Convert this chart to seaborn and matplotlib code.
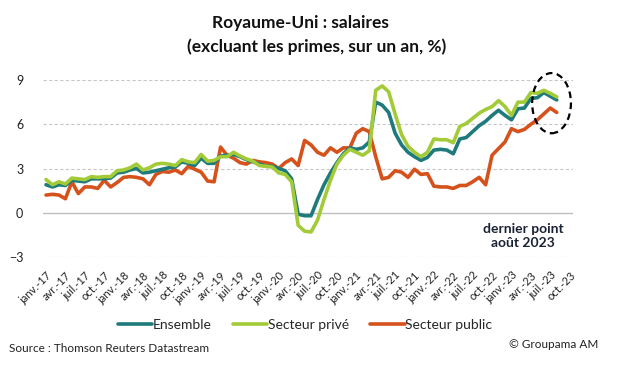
import numpy as np
import pandas as pd
import seaborn as sns
import matplotlib.pyplot as plt
from matplotlib.patches import Ellipse

# monthly series, janv. 2017 -> août 2023 (%, sur un an)
ensemble = [1.9, 1.75, 1.9, 1.85, 2.2, 2.15, 2.1, 2.3, 2.3, 2.3, 2.35, 2.7,
            2.75, 2.9, 3.0, 2.7, 2.75, 2.85, 2.95, 3.05, 3.1, 3.45, 3.35, 3.2,
            3.7, 3.35, 3.35, 3.85, 3.9, 3.95, 3.8, 3.6, 3.45, 3.3, 3.15, 3.15,
            3.0, 2.85, 2.3, -0.1, -0.2, -0.2, 0.9, 1.9, 2.7, 3.4, 4.0, 4.4,
            4.3, 4.4, 4.8, 7.5, 7.3, 6.8, 5.4, 4.6, 4.1, 3.8, 3.55, 3.75,
            4.25, 4.3, 4.25, 4.0, 5.0, 5.1, 5.5, 5.9, 6.2, 6.6, 6.95, 6.6,
            6.3, 7.05, 7.1, 7.75, 7.8, 8.15, 7.9, 7.65]
prive = [2.25, 1.9, 2.1, 1.95, 2.35, 2.3, 2.25, 2.45, 2.4, 2.45, 2.45, 2.85,
         2.9, 3.05, 3.3, 2.9, 3.05, 3.3, 3.35, 3.3, 3.2, 3.6, 3.45, 3.4,
         3.95, 3.5, 3.55, 3.8, 3.8, 4.1, 3.85, 3.65, 3.5, 3.2, 3.15, 3.1,
         2.7, 2.6, 2.1, -0.85, -1.25, -1.3, -0.5, 0.9, 2.2, 3.3, 3.9, 4.3,
         4.1, 3.9, 4.2, 8.3, 8.6, 8.2, 6.7, 5.3, 4.5, 4.1, 3.8, 4.1,
         5.0, 4.95, 4.95, 4.75, 5.85, 6.05, 6.4, 6.75, 7.0, 7.2, 7.6, 7.2,
         6.6, 7.5, 7.5, 8.15, 8.1, 8.3, 8.1, 7.85]
public = [1.2, 1.25, 1.2, 0.95, 2.1, 1.3, 1.75, 1.75, 1.65, 2.2, 1.75, 2.05,
          2.4, 2.45, 2.4, 2.3, 1.9, 2.6, 2.8, 2.75, 2.9, 2.65, 3.15, 2.95,
          2.75, 2.15, 2.1, 4.45, 3.9, 3.7, 3.4, 3.3, 3.55, 3.45, 3.4, 3.3,
          3.0, 3.4, 3.65, 3.2, 4.9, 4.6, 4.1, 3.9, 4.4, 4.1, 4.4, 4.4,
          5.4, 5.7, 5.5, 3.8, 2.3, 2.4, 2.85, 2.75, 2.4, 2.95, 2.6, 2.65,
          1.8, 1.75, 1.75, 1.65, 1.85, 1.85, 2.1, 2.4, 1.9, 3.9, 4.35, 4.8,
          5.7, 5.5, 5.65, 6.0, 6.3, 6.7, 7.1, 6.8]

mois = ['janv.', 'avr.', 'juil.', 'oct.']
annees = ['17', '18', '19', '20', '21', '22', '23']
tick_labels = [m + '-' + a for a in annees for m in mois]
n_cat = 82  # janv.-17 .. oct.-23 on the axis

series = {'Ensemble': ensemble, 'Secteur privé': prive, 'Secteur public': public}
colors = {'Ensemble': '#1f7a7c', 'Secteur privé': '#a3cb38', 'Secteur public': '#d5521c'}

df = pd.DataFrame(series)
df['mois'] = np.arange(len(df))
long = df.melt(id_vars='mois', var_name='serie', value_name='valeur')

sns.set_style('white')
plt.rcParams['font.family'] = ['Lato', 'DejaVu Sans']

fig = plt.figure(figsize=(6.2, 3.68), dpi=100)
ax = fig.add_axes([0.069, 0.3016, 0.855, 0.481])

for y in [-3, 3, 6, 9]:
    ax.axhline(y, color='#c8c8c8', lw=0.8, ls=(0, (3, 2)), zorder=0)
ax.axhline(0, color='#c0c0c0', lw=1.0, zorder=0)

sns.lineplot(data=long, x='mois', y='valeur', hue='serie', palette=colors,
             hue_order=['Ensemble', 'Secteur privé', 'Secteur public'],
             lw=2.6, ax=ax, legend=False)
# green drawn over teal like the reference
for line in ax.lines[-3:]:
    if line.get_color() == colors['Secteur privé']:
        line.set_zorder(3)
    elif line.get_color() == colors['Ensemble']:
        line.set_zorder(2.5)
    else:
        line.set_zorder(2)

ax.set_xlim(-0.5, n_cat - 0.5)
ax.set_ylim(-3, 9)
ax.set_yticks([-3, 0, 3, 6, 9])
ax.set_xticks(np.arange(0, n_cat, 3))
ax.set_xticklabels(tick_labels, rotation=45, ha='right', rotation_mode='anchor',
                   fontsize=8, color='#222222')
ax.tick_params(axis='y', labelsize=9, labelcolor='#222222', pad=14, length=0)
ax.tick_params(axis='x', length=0, pad=9)
ax.set_xlabel('')
ax.set_ylabel('')
for s in ax.spines.values():
    s.set_visible(False)

ax.add_patch(Ellipse((78.2, 7.43), 6.0, 4.08, fill=False, ec='black', lw=1.6,
                     ls=(0, (3, 2)), clip_on=False, zorder=4))
ax.text(73.8, -1.58, 'dernier point\naoût 2023', ha='center', va='center',
        fontsize=10, fontweight='bold', color='#1c2236', linespacing=1.15)

fig.text(0.484, 0.937, 'Royaume-Uni : salaires', ha='center', va='center',
         fontsize=12.5, fontweight='bold', color='#111111')
fig.text(0.51, 0.872, '(excluant les primes, sur un an, %)', ha='center', va='center',
         fontsize=12.5, fontweight='bold', color='#111111')

handles = [plt.Line2D([], [], color=colors[k], lw=2.6) for k in series]
fig.legend(handles, list(series), loc='center', bbox_to_anchor=(0.492, 0.117), ncol=3,
           frameon=False, fontsize=10, handlelength=2.5, handletextpad=0.05,
           columnspacing=1.5)

fig.text(0.015, 0.052, 'Source : Thomson Reuters Datastream', fontsize=8.5,
         color='#222222', va='center')
fig.text(0.965, 0.0625, '© Groupama AM', fontsize=8.5, color='#222222',
         ha='right', va='center')

fig.savefig('out.png', dpi=100)
